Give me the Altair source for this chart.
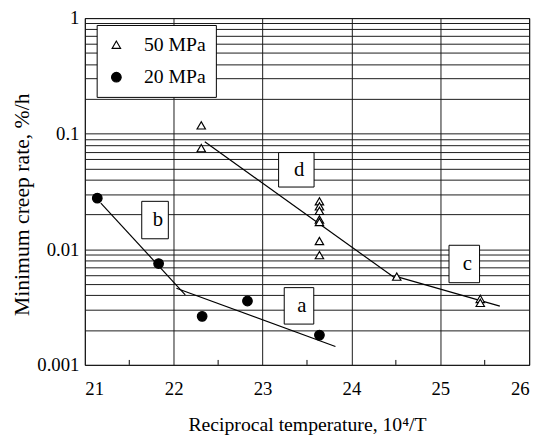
import altair as alt
import pandas as pd

# ---- data ----
x50 = [22.31, 22.31, 23.64, 23.64, 23.64, 23.64, 23.64, 23.64, 23.64, 24.51, 25.45, 25.45]
y50 = [0.118, 0.075, 0.026, 0.0235, 0.0215, 0.0181, 0.0172, 0.0118, 0.0089, 0.0058, 0.00372, 0.00344]
x20 = [21.14, 21.83, 22.32, 22.83, 23.64]
y20 = [0.0277, 0.00753, 0.00263, 0.00357, 0.00181]

line_ids = ["a", "a", "b", "b", "c", "c", "d", "d"]
line_x = [22.03, 23.82, 21.18, 22.13, 24.51, 25.67, 22.35, 24.51]
line_y = [0.0046, 0.00144, 0.0251, 0.00404, 0.0058, 0.00322, 0.085, 0.0055]

box_labels = ["a", "b", "c", "d"]
box_x = [23.41, 21.79, 25.27, 23.38]
box_y = [0.00324, 0.0179, 0.00746, 0.0487]

x_ticks = [21, 22, 23, 24, 25, 26]
x_minor = [21.5, 22.5, 23.5, 24.5, 25.5]
y_grid = [0.001, 0.002, 0.003, 0.004, 0.005, 0.006, 0.007, 0.008, 0.009,
          0.01, 0.02, 0.03, 0.04, 0.05, 0.06, 0.07, 0.08, 0.09,
          0.1, 0.2, 0.3, 0.4, 0.5, 0.6, 0.7, 0.8, 0.9, 1]
series_names = ["50 MPa", "20 MPa"]

# ---- layout ----
W, H = 451, 352
FONT = "Liberation Serif"

pts = pd.DataFrame({
    "x": x50 + x20,
    "y": y50 + y20,
    "series": [series_names[0]] * len(x50) + [series_names[1]] * len(x20),
})
lines = pd.DataFrame({"x": line_x, "y": line_y, "id": line_ids})
boxes = pd.DataFrame({"x": box_x, "y": box_y, "label": box_labels})
minor = pd.DataFrame({"x": x_minor})

xscale = alt.Scale(domain=[21, 26], nice=False, zero=False)
yscale = alt.Scale(type="log", domain=[0.001, 1], nice=False)


def X():
    return alt.X("x:Q", scale=xscale, axis=alt.Axis(
        values=x_ticks, grid=True, ticks=False, tickSize=0, domain=False,
        labelPadding=15, title="Reciprocal temperature, 10\u2074/T",
        titleY=67, titleBaseline="alphabetic"))


def Y():
    return alt.Y("y:Q", scale=yscale, axis=alt.Axis(
        values=y_grid, grid=True, ticks=False, tickSize=0, domain=False,
        labelPadding=6,
        labelExpr="indexof([1, 0.1, 0.01, 0.001], datum.value) >= 0 ? toString(datum.value) : ''",
        title="Minimum creep rate, %/h", titleAngle=270, titleX=-57,
        titleY=189, titleBaseline="alphabetic", titleAlign="center",
        titleFontSize=22))


leg = alt.Legend(title=None, orient="none", legendX=12, legendY=7,
                 strokeColor="black", fillColor="white", padding=10,
                 labelFont=FONT, labelFontSize=20, labelOffset=18,
                 rowPadding=13, symbolStrokeColor="black", symbolStrokeWidth=1.2,
                 labelExpr="datum.label + '\u00a0\u00a0'")

line_layer = alt.Chart(lines).mark_line(color="black", strokeWidth=1.2).encode(
    x=X(), y=Y(), detail="id:N")

point_layer = alt.Chart(pts).mark_point(filled=True, strokeWidth=1.2, opacity=1).encode(
    x=X(), y=Y(),
    shape=alt.Shape("series:N", scale=alt.Scale(domain=series_names, range=["triangle-up", "circle"]), legend=leg),
    fill=alt.Fill("series:N", scale=alt.Scale(domain=series_names, range=["white", "black"]), legend=leg),
    stroke=alt.Stroke("series:N", scale=alt.Scale(domain=series_names, range=["black", "black"]), legend=leg),
    size=alt.Size("series:N", scale=alt.Scale(domain=series_names, range=[72, 95]), legend=leg),
)

box_sizes = {"a": (30, 37), "b": (27, 38), "c": (31, 38), "d": (36, 35)}
box_layers = []
for lab in box_labels:
    w, h = box_sizes[lab]
    box_layers.append(
        alt.Chart(boxes).transform_filter(alt.datum.label == lab)
        .mark_rect(width=w, height=h, fill="white", stroke="black", strokeWidth=1)
        .encode(x=X(), y=Y())
    )

text_layer = alt.Chart(boxes).mark_text(font=FONT, fontSize=21, dx=3, baseline="middle",
                                         align="center", color="black").encode(
    x=X(), y=Y(), text="label:N")

minor_layer = alt.Chart(minor).mark_rule(color="black", strokeWidth=1).encode(
    x=X(), y=alt.value(H), y2=alt.value(H - 5))

chart = alt.layer(line_layer, *box_layers, text_layer, minor_layer, point_layer).properties(
    width=W, height=H,
    autosize=alt.AutoSizeParams(type="none"),
    padding={"left": 78, "top": 7, "right": 10, "bottom": 72},
).configure_view(stroke="black", strokeWidth=1).configure_axis(
    gridColor="#1a1a1a", gridWidth=1, gridOpacity=1,
    labelFont=FONT, labelFontSize=19, labelColor="black",
    titleFont=FONT, titleFontSize=20, titleFontWeight="normal", titleColor="black",
).configure_legend(symbolStrokeColor="black")

chart.save("out.html", embed_options={"renderer": "svg", "actions": False})
